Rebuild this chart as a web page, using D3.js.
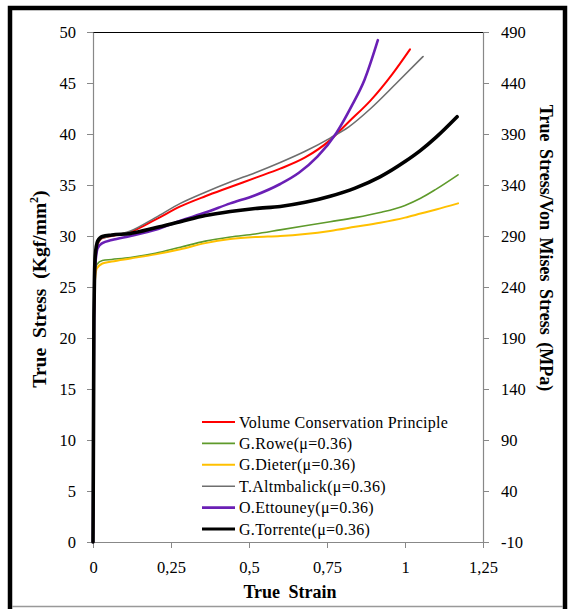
<!DOCTYPE html>
<html><head><meta charset="utf-8">
<script src="https://cdn.jsdelivr.net/npm/d3@7"></script>
<style>body{margin:0;background:#fff}svg{display:block}</style>
</head><body>
<svg id="c" width="570" height="609"></svg>
<script>
const seriesNames = ["Volume Conservation Principle","G.Rowe(\u03bc=0.36)","G.Dieter(\u03bc=0.36)","T.Altmbalick(\u03bc=0.36)","O.Ettouney(\u03bc=0.36)","G.Torrente(\u03bc=0.36)"];
const seriesColors = ["#ff0000","#5e9a2b","#ffc000","#6e6e6e","#6a1fb5","#000000"];
const seriesWidths = [2,1.6,2,1.6,2.6,3.6];

const strainVolume = [0,0.003,0.007,0.015,0.03,0.06,0.12,0.2,0.28,0.36,0.44,0.52,0.6,0.68,0.76,0.82,0.89,0.96,1.016];
const stressVolume = [0,21,27.5,29.2,29.8,30.0,30.4,31.6,32.9,33.9,34.8,35.7,36.6,37.7,39.4,41.2,43.3,45.9,48.3];
const strainRowe = [0,0.002,0.005,0.012,0.03,0.06,0.12,0.2,0.28,0.36,0.44,0.52,0.6,0.68,0.76,0.84,0.92,1.0,1.05,1.1,1.17];
const stressRowe = [0,20,25.5,27.2,27.6,27.7,27.9,28.3,28.9,29.5,29.9,30.2,30.6,31.0,31.4,31.8,32.3,33.0,33.7,34.6,36.0];
const strainDieter = [0,0.002,0.005,0.012,0.03,0.06,0.12,0.2,0.28,0.36,0.44,0.52,0.6,0.68,0.76,0.84,0.92,1.0,1.05,1.1,1.17];
const stressDieter = [0,19.5,25,26.8,27.3,27.5,27.8,28.2,28.7,29.3,29.7,29.9,30.0,30.2,30.5,30.9,31.3,31.8,32.2,32.6,33.2];
const strainAltmbalick = [0,0.003,0.007,0.015,0.03,0.06,0.12,0.2,0.28,0.36,0.44,0.52,0.6,0.68,0.76,0.82,0.89,0.97,1.058];
const stressAltmbalick = [0,21,27.5,29.2,29.8,30.0,30.5,31.8,33.2,34.3,35.3,36.2,37.2,38.3,39.6,40.7,42.5,44.9,47.6];
const strainEttouney = [0,0.003,0.007,0.015,0.03,0.06,0.12,0.2,0.28,0.36,0.44,0.52,0.6,0.66,0.72,0.78,0.83,0.87,0.913];
const stressEttouney = [0,21,27,28.8,29.3,29.6,30.0,30.6,31.5,32.3,33.2,34.0,35.1,36.2,37.8,40.1,42.8,45.3,49.2];
const strainTorrente = [0,0.003,0.007,0.015,0.03,0.06,0.12,0.2,0.28,0.36,0.44,0.52,0.6,0.68,0.76,0.84,0.92,1.0,1.05,1.1,1.167];
const stressTorrente = [0,22,28,29.5,29.95,30.1,30.25,30.8,31.4,32.0,32.4,32.7,32.9,33.3,33.9,34.7,35.8,37.3,38.4,39.7,41.7];

const leftTicks = [0,5,10,15,20,25,30,35,40,45,50];
const rightTicks = [-10,40,90,140,190,240,290,340,390,440,490];
const xTicks = [0,0.25,0.5,0.75,1,1.25];
const xTickLabels = ["0","0,25","0,5","0,75","1","1,25"];

const series = [
  [strainVolume, stressVolume],[strainRowe, stressRowe],[strainDieter, stressDieter],
  [strainAltmbalick, stressAltmbalick],[strainEttouney, stressEttouney],[strainTorrente, stressTorrente]
].map((s,i)=>({name:seriesNames[i],color:seriesColors[i],width:seriesWidths[i],pts:s[0].map((x,j)=>[x,s[1][j]])}));

const svg = d3.select("#c");
const font = "'Liberation Serif','Times New Roman',serif";
const L=93,R=483,T=32,B=542;
const x = d3.scaleLinear().domain([0,1.25]).range([L,R]);
const y = d3.scaleLinear().domain([0,50]).range([B,T]);
const y2 = d3.scaleLinear().domain([-10,490]).range([B,T]);

// frame
svg.append("rect").attr("x",10).attr("y",8).attr("width",555).attr("height",620)
  .attr("fill","none").attr("stroke","#000").attr("stroke-width",4.5);
svg.append("line").attr("x1",12).attr("x2",563).attr("y1",606.5).attr("y2",606.5).attr("stroke","#999").attr("stroke-width",1.5);

// top border of plot
svg.append("line").attr("x1",L).attr("x2",R).attr("y1",T+0.5).attr("y2",T+0.5).attr("stroke","#000").attr("stroke-width",1);

function styleAxis(g){
  g.select(".domain").attr("stroke","#888").attr("stroke-width",1.2);
  g.selectAll(".tick line").attr("stroke","#888");
  g.selectAll("text").attr("font-family",font).attr("font-size",16.5).attr("fill","#000");
}
svg.append("g").attr("transform",`translate(${L},0)`)
  .call(d3.axisLeft(y).tickValues(leftTicks).tickSize(6).tickSizeOuter(0).tickPadding(11).tickFormat(d=>d)).call(styleAxis);
svg.append("g").attr("transform",`translate(${R},0)`)
  .call(d3.axisRight(y2).tickValues(rightTicks).tickSize(6).tickSizeOuter(0).tickPadding(12).tickFormat(d=>d)).call(styleAxis);
svg.append("g").attr("transform",`translate(0,${B})`)
  .call(d3.axisBottom(x).tickValues(xTicks).tickSize(6).tickSizeOuter(0).tickPadding(13).tickFormat((d,i)=>xTickLabels[i])).call(styleAxis);

// titles
svg.append("text").attr("x",290).attr("y",598).attr("text-anchor","middle")
  .attr("font-family",font).attr("font-weight","bold").attr("font-size",18).attr("word-spacing","4px").text("True Strain");
const lt = svg.append("text").attr("transform","translate(46,289) rotate(-90)").attr("text-anchor","middle")
  .attr("font-family",font).attr("font-weight","bold").attr("font-size",19.5).attr("word-spacing","5px");
lt.append("tspan").text("True Stress (Kgf/mm");
lt.append("tspan").attr("font-size",12).attr("dy",-8).text("2");
lt.append("tspan").attr("dy",8).text(")");
svg.append("text").attr("transform","translate(540,248) rotate(90)").attr("text-anchor","middle")
  .attr("font-family",font).attr("font-weight","bold").attr("font-size",18).attr("word-spacing","3px")
  .text("True Stress/Von Mises Stress (MPa)");

// lines
const line = d3.line().x(d=>x(d[0])).y(d=>y(d[1])).curve(d3.curveMonotoneX);
svg.append("g").selectAll("path").data(series).join("path")
  .attr("d",d=>line(d.pts)).attr("fill","none").attr("stroke",d=>d.color)
  .attr("stroke-width",d=>d.width).attr("stroke-linejoin","round").attr("stroke-linecap","round");

// legend
const lg = svg.append("g").selectAll("g").data(series).join("g")
  .attr("transform",(d,i)=>`translate(202,${422+i*21.4})`);
lg.append("line").attr("x1",0).attr("x2",33).attr("stroke",d=>d.color).attr("stroke-width",d=>Math.min(d.width,3));
lg.append("text").attr("x",37).attr("y",5.5).attr("font-family",font).attr("font-size",16)
  .attr("letter-spacing","0.3px").text(d=>d.name);
</script>
</body></html>
